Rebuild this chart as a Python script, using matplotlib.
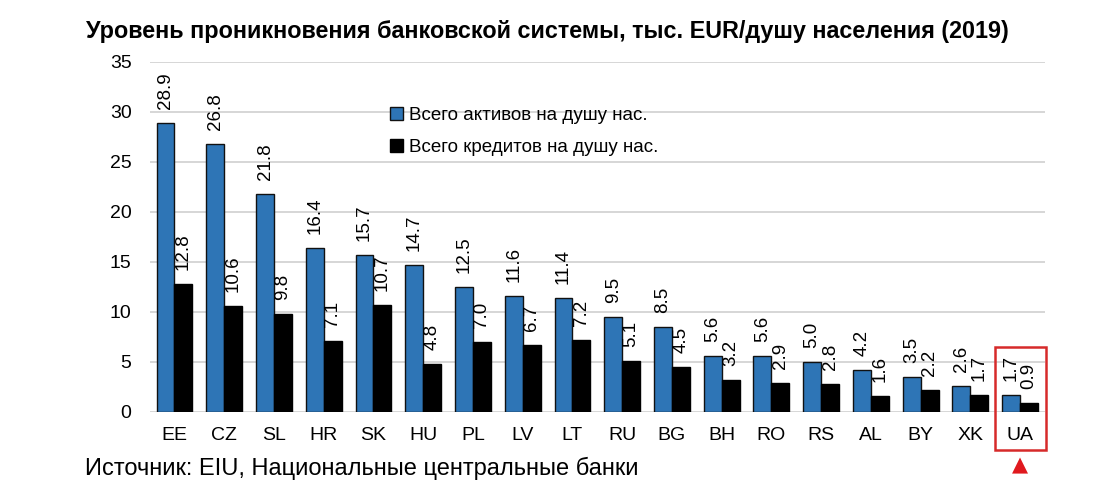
import numpy as np
import matplotlib.pyplot as plt
from matplotlib.patches import Rectangle

plt.rcParams['font.family'] = ['Liberation Sans', 'DejaVu Sans']

countries = ['EE', 'CZ', 'SL', 'HR', 'SK', 'HU', 'PL', 'LV', 'LT', 'RU',
             'BG', 'BH', 'RO', 'RS', 'AL', 'BY', 'XK', 'UA']
assets = [28.9, 26.8, 21.8, 16.4, 15.7, 14.7, 12.5, 11.6, 11.4, 9.5,
          8.5, 5.6, 5.6, 5.0, 4.2, 3.5, 2.6, 1.7]
loans = [12.8, 10.6, 9.8, 7.1, 10.7, 4.8, 7.0, 6.7, 7.2, 5.1,
         4.5, 3.2, 2.9, 2.8, 1.6, 2.2, 1.7, 0.9]
yticks = [0, 5, 10, 15, 20, 25, 30, 35]

fig = plt.figure(figsize=(11, 4.83), dpi=100)
ax = fig.add_axes([0.136, 0.147, 0.814, 0.725])

x = np.arange(len(countries))
w = 0.36
ax.bar(x - w / 2, assets, w, color='#2E75B6', edgecolor='#111111',
       linewidth=1.0, label='Всего активов на душу нас.', zorder=3)
ax.bar(x + w / 2, loans, w, color='black', edgecolor='black',
       linewidth=1.0, label='Всего кредитов на душу нас.', zorder=3)

for xi, v in zip(x - w / 2, assets):
    ax.text(xi, v + 1.4, f'{v:.1f}', rotation=90, ha='center', va='bottom',
            fontsize=13.5)
for xi, v in zip(x + w / 2, loans):
    ax.text(xi, v + 1.4, f'{v:.1f}', rotation=90, ha='center', va='bottom',
            fontsize=13.5)

ax.set_ylim(0, 35)
ax.set_xlim(-0.5, len(countries) - 0.5)
ax.set_yticks(yticks)
ax.set_xticks(x)
ax.set_xticklabels(countries, fontsize=14)
ax.tick_params(axis='y', labelsize=14, length=0, pad=13)
ax.tick_params(axis='x', length=0, pad=11)
ax.grid(axis='y', color='#d0d0d0', linewidth=1.2, zorder=0)
for s in ax.spines.values():
    s.set_visible(False)

ax.legend(loc='upper left', bbox_to_anchor=(0.25, 0.92), frameon=False,
          fontsize=13.5, handlelength=0.7, handleheight=0.7,
          handletextpad=0.3, labelspacing=0.8)

fig.text(0.078, 0.921, 'Уровень проникновения банковской системы, тыс. EUR/душу населения (2019)',
         fontsize=16.8, fontweight='bold')
fig.text(0.077, 0.016, 'Источник: EIU, Национальные центральные банки', fontsize=17)

# highlight UA
fig.patches.append(Rectangle((995 / 1100, 1 - 450 / 483), 51 / 1100, 103 / 483,
                             transform=fig.transFigure, fill=False,
                             edgecolor='#d62a2a', linewidth=1.8))
fig.text(1020 / 1100, 1 - 465 / 483, '▲', color='#e0191e', fontsize=15,
         ha='center', va='center', family=['DejaVu Sans'])

fig.savefig('out.png', dpi=100)
